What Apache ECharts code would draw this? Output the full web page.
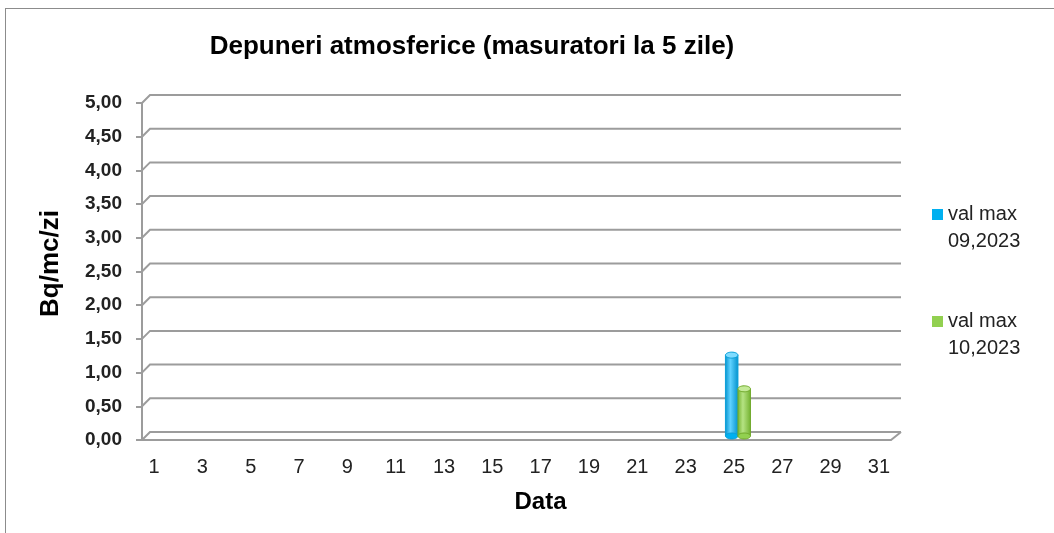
<!DOCTYPE html>
<html>
<head>
<meta charset="utf-8">
<script src="https://cdn.jsdelivr.net/npm/echarts@6/dist/echarts.min.js"></script>
<style>
  html, body { margin: 0; padding: 0; background: #ffffff; overflow: hidden; }
  #frame { position: absolute; left: 5px; top: 8px; width: 1200px; height: 700px; border: 1px solid #8c8c8c; box-sizing: border-box; }
  #chart { position: absolute; left: 0; top: 0; width: 1054px; height: 533px; }
</style>
</head>
<body>
<div id="frame"></div>
<div id="chart"></div>
<script>
// ---- data ----
const categories = ['1','2','3','4','5','6','7','8','9','10','11','12','13','14','15','16','17','18','19','20','21','22','23','24','25','26','27','28','29','30','31'];
const seriesNames = ['val max 09,2023', 'val max 10,2023'];
const legendLabels = ['val max\n09,2023', 'val max\n10,2023'];
const valSep = [null,null,null,null,null,null,null,null,null,null,null,null,null,null,null,null,null,null,null,null,null,null,null,null,1.20,null,null,null,null,null,null];
const valOct = [null,null,null,null,null,null,null,null,null,null,null,null,null,null,null,null,null,null,null,null,null,null,null,null,0.70,null,null,null,null,null,null];
const yTicks = [0, 0.5, 1, 1.5, 2, 2.5, 3, 3.5, 4, 4.5, 5];

// ---- styles ----
const GRID_COLOR = '#9c9c9c';
const DX = 8, DY = 8;
const BAR_W = 12.5;
const FONT = '"Liberation Sans", Arial, sans-serif';
const COLORS = [
  { base: '#00b0f0', edge: '#0090cc', light: '#5fd2ff', cap: '#7fdcff', line: '#0a9fd8' },
  { base: '#92d050', edge: '#72b02e', light: '#b5e383', cap: '#c4ea98', line: '#6fa82a' }
];

const chart = echarts.init(document.getElementById('chart'), null, { renderer: 'canvas' });

function cylRender(seriesIdx) {
  const c = COLORS[seriesIdx];
  return function (params, api) {
    const v = api.value(1);
    if (v === null || v === undefined || isNaN(v)) return null;
    const idx = api.value(0);
    const base = api.coord([idx, 0]);
    const top = api.coord([idx, v]);
    const x = base[0] - BAR_W + seriesIdx * BAR_W + DX / 2;
    const yb = base[1] - DY / 2;
    const yt = top[1] - DY / 2;
    const ry = 3;
    const grad = new echarts.graphic.LinearGradient(0, 0, 1, 0, [
      { offset: 0, color: c.edge },
      { offset: 0.4, color: c.light },
      { offset: 1, color: c.edge }
    ]);
    return {
      type: 'group',
      children: [
        { type: 'rect', shape: { x: x, y: yt, width: BAR_W, height: yb - yt },
          style: { fill: grad, stroke: c.line, lineWidth: 1 } },
        { type: 'ellipse', shape: { cx: x + BAR_W / 2, cy: yb, rx: BAR_W / 2, ry: ry },
          style: { fill: c.base, stroke: c.line, lineWidth: 1 } },
        { type: 'ellipse', shape: { cx: x + BAR_W / 2, cy: yt, rx: BAR_W / 2, ry: ry },
          style: { fill: c.cap, stroke: c.line, lineWidth: 1 } }
      ]
    };
  };
}

const option = {
  animation: false,
  backgroundColor: 'transparent',
  title: {
    text: 'Depuneri atmosferice (masuratori la 5 zile)',
    left: 467,
    textAlign: 'center',
    top: 29,
    textStyle: { fontFamily: FONT, fontSize: 26, fontWeight: 'bold', color: '#000' }
  },
  legend: {
    orient: 'vertical',
    left: 932,
    top: 174,
    padding: 0,
    itemGap: 26,
    itemWidth: 11,
    itemHeight: 11,
    icon: 'rect',
    data: [
      { name: seriesNames[0], itemStyle: { color: COLORS[0].base } },
      { name: seriesNames[1], itemStyle: { color: COLORS[1].base } }
    ],
    formatter: function (name) { return ' \n' + legendLabels[seriesNames.indexOf(name)]; },
    textStyle: { fontFamily: FONT, fontSize: 20, color: '#222', lineHeight: 27 }
  },
  grid: { left: 142, right: 163, top: 103, bottom: 93, containLabel: false },
  xAxis: {
    type: 'category',
    data: categories,
    name: 'Data',
    nameLocation: 'middle',
    nameGap: 50,
    nameTextStyle: { fontFamily: FONT, fontSize: 24, fontWeight: 'bold', color: '#000', padding: [0, 0, 0, 48] },
    axisLine: { show: true, lineStyle: { color: GRID_COLOR, width: 2 } },
    axisTick: { show: false },
    axisLabel: { interval: 1, margin: 17, fontFamily: FONT, fontSize: 20, color: '#222' },
    splitLine: { show: false }
  },
  yAxis: {
    type: 'value',
    min: yTicks[0],
    max: yTicks[yTicks.length - 1],
    interval: yTicks[1] - yTicks[0],
    name: 'Bq/mc/zi',
    nameLocation: 'middle',
    nameGap: 78,
    nameRotate: 90,
    nameTextStyle: { fontFamily: FONT, fontSize: 26, fontWeight: 'bold', color: '#000', padding: [0, 0, 0, 16] },
    axisLine: { show: true, lineStyle: { color: GRID_COLOR, width: 2 } },
    axisTick: { show: true, inside: false, length: 6, lineStyle: { color: GRID_COLOR, width: 2 } },
    axisLabel: {
      margin: 20,
      fontFamily: FONT, fontSize: 19, fontWeight: 'bold', color: '#222',
      formatter: function (v) { return v.toFixed(2).replace('.', ','); }
    },
    splitLine: { show: false }
  },
  series: [
    {
      type: 'custom',
      name: 'grid3d',
      silent: true,
      z: 1,
      clip: false,
      data: yTicks.map(function (v) { return [0, v]; }),
      renderItem: function (params, api) {
        const cs = params.coordSys;
        const L = cs.x, R = cs.x + cs.width;
        const y = api.coord([0, api.value(1)])[1];
        const style = { stroke: GRID_COLOR, lineWidth: 2, fill: null };
        const children = [{
          type: 'polyline',
          shape: { points: [[L, y], [L + DX, y - DY], [R + DX + 2, y - DY]] },
          style: style
        }];
        if (api.value(1) === 0) {
          children.push({
            type: 'line',
            shape: { x1: R, y1: y, x2: R + DX + 2, y2: y - DY },
            style: style
          });
        }
        return { type: 'group', children: children };
      }
    },
    {
      type: 'custom',
      name: seriesNames[0],
      z: 3,
      clip: false,
      itemStyle: { color: COLORS[0].base },
      data: valSep.map(function (v, i) { return [i, v]; }),
      renderItem: cylRender(0)
    },
    {
      type: 'custom',
      name: seriesNames[1],
      z: 3,
      clip: false,
      itemStyle: { color: COLORS[1].base },
      data: valOct.map(function (v, i) { return [i, v]; }),
      renderItem: cylRender(1)
    }
  ]
};

chart.setOption(option);
</script>
</body>
</html>
